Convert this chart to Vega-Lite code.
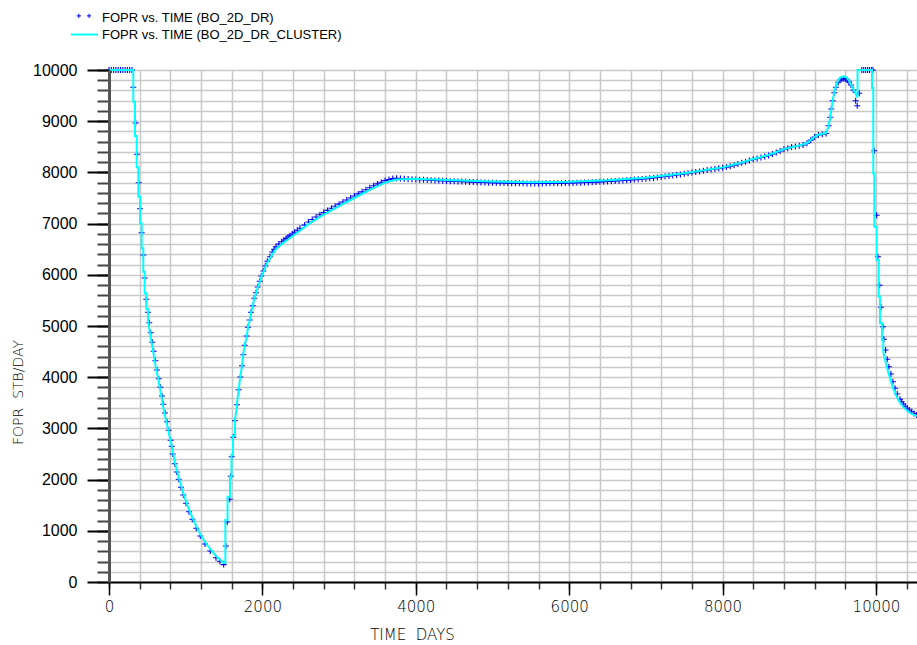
{
  "$schema": "https://vega.github.io/schema/vega-lite/v6.json",
  "width": 808,
  "height": 512,
  "autosize": {"type": "none"},
  "padding": {"left": 109, "top": 70, "right": 0, "bottom": 63},
  "background": "white",
  "config": {"view": {"stroke": null}},
  "datasets": {
    "dr": [
      {"s":"FOPR vs. TIME (BO_2D_DR)","t":0,"v":10000},{"s":"FOPR vs. TIME (BO_2D_DR)","t":30,"v":10000},{"s":"FOPR vs. TIME (BO_2D_DR)","t":60,"v":10000},{"s":"FOPR vs. TIME (BO_2D_DR)","t":90,"v":10000},{"s":"FOPR vs. TIME (BO_2D_DR)","t":120,"v":10000},{"s":"FOPR vs. TIME (BO_2D_DR)","t":150,"v":10000},{"s":"FOPR vs. TIME (BO_2D_DR)","t":180,"v":10000},{"s":"FOPR vs. TIME (BO_2D_DR)","t":210,"v":10000},{"s":"FOPR vs. TIME (BO_2D_DR)","t":240,"v":10000},{"s":"FOPR vs. TIME (BO_2D_DR)","t":270,"v":10000},{"s":"FOPR vs. TIME (BO_2D_DR)","t":300,"v":10000},
      {"s":"FOPR vs. TIME (BO_2D_DR)","t":317,"v":9662},{"s":"FOPR vs. TIME (BO_2D_DR)","t":348,"v":8965},{"s":"FOPR vs. TIME (BO_2D_DR)","t":365,"v":8354},{"s":"FOPR vs. TIME (BO_2D_DR)","t":387,"v":7799},{"s":"FOPR vs. TIME (BO_2D_DR)","t":404,"v":7291},{"s":"FOPR vs. TIME (BO_2D_DR)","t":426,"v":6822},{"s":"FOPR vs. TIME (BO_2D_DR)","t":447,"v":6387},{"s":"FOPR vs. TIME (BO_2D_DR)","t":465,"v":5938},{"s":"FOPR vs. TIME (BO_2D_DR)","t":486,"v":5521},{"s":"FOPR vs. TIME (BO_2D_DR)","t":508,"v":5268},{"s":"FOPR vs. TIME (BO_2D_DR)","t":525,"v":5064},{"s":"FOPR vs. TIME (BO_2D_DR)","t":544,"v":4869},{"s":"FOPR vs. TIME (BO_2D_DR)","t":565,"v":4682},{"s":"FOPR vs. TIME (BO_2D_DR)","t":583,"v":4506},{"s":"FOPR vs. TIME (BO_2D_DR)","t":604,"v":4322},{"s":"FOPR vs. TIME (BO_2D_DR)","t":626,"v":4141},{"s":"FOPR vs. TIME (BO_2D_DR)","t":648,"v":3971},{"s":"FOPR vs. TIME (BO_2D_DR)","t":669,"v":3803},{"s":"FOPR vs. TIME (BO_2D_DR)","t":691,"v":3633},{"s":"FOPR vs. TIME (BO_2D_DR)","t":708,"v":3471},{"s":"FOPR vs. TIME (BO_2D_DR)","t":730,"v":3301},{"s":"FOPR vs. TIME (BO_2D_DR)","t":756,"v":3131},{"s":"FOPR vs. TIME (BO_2D_DR)","t":778,"v":2963},{"s":"FOPR vs. TIME (BO_2D_DR)","t":804,"v":2768},{"s":"FOPR vs. TIME (BO_2D_DR)","t":818,"v":2650},{"s":"FOPR vs. TIME (BO_2D_DR)","t":830,"v":2500},{"s":"FOPR vs. TIME (BO_2D_DR)","t":857,"v":2311},{"s":"FOPR vs. TIME (BO_2D_DR)","t":883,"v":2148},{"s":"FOPR vs. TIME (BO_2D_DR)","t":909,"v":2006},{"s":"FOPR vs. TIME (BO_2D_DR)","t":939,"v":1850},{"s":"FOPR vs. TIME (BO_2D_DR)","t":969,"v":1699},{"s":"FOPR vs. TIME (BO_2D_DR)","t":1004,"v":1537},{"s":"FOPR vs. TIME (BO_2D_DR)","t":1043,"v":1373},{"s":"FOPR vs. TIME (BO_2D_DR)","t":1086,"v":1225},{"s":"FOPR vs. TIME (BO_2D_DR)","t":1138,"v":1049},{"s":"FOPR vs. TIME (BO_2D_DR)","t":1190,"v":898},{"s":"FOPR vs. TIME (BO_2D_DR)","t":1252,"v":742},{"s":"FOPR vs. TIME (BO_2D_DR)","t":1321,"v":605},{"s":"FOPR vs. TIME (BO_2D_DR)","t":1395,"v":475},{"s":"FOPR vs. TIME (BO_2D_DR)","t":1445,"v":405},{"s":"FOPR vs. TIME (BO_2D_DR)","t":1495,"v":340},
      {"s":"FOPR vs. TIME (BO_2D_DR)","t":1525,"v":703},{"s":"FOPR vs. TIME (BO_2D_DR)","t":1542,"v":1172},{"s":"FOPR vs. TIME (BO_2D_DR)","t":1574,"v":1615},{"s":"FOPR vs. TIME (BO_2D_DR)","t":1587,"v":2064},{"s":"FOPR vs. TIME (BO_2D_DR)","t":1600,"v":2447},{"s":"FOPR vs. TIME (BO_2D_DR)","t":1621,"v":2826},{"s":"FOPR vs. TIME (BO_2D_DR)","t":1643,"v":3150},{"s":"FOPR vs. TIME (BO_2D_DR)","t":1669,"v":3463},{"s":"FOPR vs. TIME (BO_2D_DR)","t":1691,"v":3756},{"s":"FOPR vs. TIME (BO_2D_DR)","t":1712,"v":4004},{"s":"FOPR vs. TIME (BO_2D_DR)","t":1734,"v":4225},{"s":"FOPR vs. TIME (BO_2D_DR)","t":1751,"v":4439},{"s":"FOPR vs. TIME (BO_2D_DR)","t":1769,"v":4623},{"s":"FOPR vs. TIME (BO_2D_DR)","t":1795,"v":4805},{"s":"FOPR vs. TIME (BO_2D_DR)","t":1812,"v":4975},{"s":"FOPR vs. TIME (BO_2D_DR)","t":1834,"v":5117},{"s":"FOPR vs. TIME (BO_2D_DR)","t":1851,"v":5268},{"s":"FOPR vs. TIME (BO_2D_DR)","t":1874,"v":5396},{"s":"FOPR vs. TIME (BO_2D_DR)","t":1894,"v":5541},{"s":"FOPR vs. TIME (BO_2D_DR)","t":1917,"v":5650},{"s":"FOPR vs. TIME (BO_2D_DR)","t":1939,"v":5762},{"s":"FOPR vs. TIME (BO_2D_DR)","t":1965,"v":5873},{"s":"FOPR vs. TIME (BO_2D_DR)","t":1986,"v":5977},{"s":"FOPR vs. TIME (BO_2D_DR)","t":2012,"v":6074},{"s":"FOPR vs. TIME (BO_2D_DR)","t":2038,"v":6172},{"s":"FOPR vs. TIME (BO_2D_DR)","t":2064,"v":6264},{"s":"FOPR vs. TIME (BO_2D_DR)","t":2099,"v":6354},{"s":"FOPR vs. TIME (BO_2D_DR)","t":2129,"v":6445},{"s":"FOPR vs. TIME (BO_2D_DR)","t":2153,"v":6500},{"s":"FOPR vs. TIME (BO_2D_DR)","t":2177,"v":6549},{"s":"FOPR vs. TIME (BO_2D_DR)","t":2215,"v":6600},{"s":"FOPR vs. TIME (BO_2D_DR)","t":2252,"v":6646},{"s":"FOPR vs. TIME (BO_2D_DR)","t":2280,"v":6680},{"s":"FOPR vs. TIME (BO_2D_DR)","t":2310,"v":6710},{"s":"FOPR vs. TIME (BO_2D_DR)","t":2335,"v":6737},{"s":"FOPR vs. TIME (BO_2D_DR)","t":2360,"v":6764},{"s":"FOPR vs. TIME (BO_2D_DR)","t":2390,"v":6797},{"s":"FOPR vs. TIME (BO_2D_DR)","t":2420,"v":6830},{"s":"FOPR vs. TIME (BO_2D_DR)","t":2455,"v":6870},{"s":"FOPR vs. TIME (BO_2D_DR)","t":2490,"v":6908},
      {"s":"FOPR vs. TIME (BO_2D_DR)","t":2550,"v":6970},{"s":"FOPR vs. TIME (BO_2D_DR)","t":2600,"v":7030},{"s":"FOPR vs. TIME (BO_2D_DR)","t":2650,"v":7080},{"s":"FOPR vs. TIME (BO_2D_DR)","t":2700,"v":7130},{"s":"FOPR vs. TIME (BO_2D_DR)","t":2750,"v":7173},{"s":"FOPR vs. TIME (BO_2D_DR)","t":2800,"v":7215},{"s":"FOPR vs. TIME (BO_2D_DR)","t":2850,"v":7258},{"s":"FOPR vs. TIME (BO_2D_DR)","t":2900,"v":7300},{"s":"FOPR vs. TIME (BO_2D_DR)","t":2950,"v":7340},{"s":"FOPR vs. TIME (BO_2D_DR)","t":3000,"v":7380},{"s":"FOPR vs. TIME (BO_2D_DR)","t":3050,"v":7421},{"s":"FOPR vs. TIME (BO_2D_DR)","t":3100,"v":7462},{"s":"FOPR vs. TIME (BO_2D_DR)","t":3150,"v":7501},{"s":"FOPR vs. TIME (BO_2D_DR)","t":3200,"v":7540},{"s":"FOPR vs. TIME (BO_2D_DR)","t":3250,"v":7580},{"s":"FOPR vs. TIME (BO_2D_DR)","t":3300,"v":7620},{"s":"FOPR vs. TIME (BO_2D_DR)","t":3350,"v":7660},{"s":"FOPR vs. TIME (BO_2D_DR)","t":3400,"v":7700},{"s":"FOPR vs. TIME (BO_2D_DR)","t":3450,"v":7738},{"s":"FOPR vs. TIME (BO_2D_DR)","t":3500,"v":7775},{"s":"FOPR vs. TIME (BO_2D_DR)","t":3550,"v":7808},{"s":"FOPR vs. TIME (BO_2D_DR)","t":3600,"v":7840},{"s":"FOPR vs. TIME (BO_2D_DR)","t":3650,"v":7862},{"s":"FOPR vs. TIME (BO_2D_DR)","t":3700,"v":7880},{"s":"FOPR vs. TIME (BO_2D_DR)","t":3750,"v":7885},{"s":"FOPR vs. TIME (BO_2D_DR)","t":3800,"v":7880},{"s":"FOPR vs. TIME (BO_2D_DR)","t":3850,"v":7875},{"s":"FOPR vs. TIME (BO_2D_DR)","t":3900,"v":7870},{"s":"FOPR vs. TIME (BO_2D_DR)","t":3950,"v":7866},{"s":"FOPR vs. TIME (BO_2D_DR)","t":4000,"v":7862},{"s":"FOPR vs. TIME (BO_2D_DR)","t":4050,"v":7858},{"s":"FOPR vs. TIME (BO_2D_DR)","t":4100,"v":7855},{"s":"FOPR vs. TIME (BO_2D_DR)","t":4150,"v":7851},{"s":"FOPR vs. TIME (BO_2D_DR)","t":4200,"v":7848},{"s":"FOPR vs. TIME (BO_2D_DR)","t":4250,"v":7844},{"s":"FOPR vs. TIME (BO_2D_DR)","t":4300,"v":7840},{"s":"FOPR vs. TIME (BO_2D_DR)","t":4350,"v":7836},{"s":"FOPR vs. TIME (BO_2D_DR)","t":4400,"v":7833},{"s":"FOPR vs. TIME (BO_2D_DR)","t":4450,"v":7829},{"s":"FOPR vs. TIME (BO_2D_DR)","t":4500,"v":7826},{"s":"FOPR vs. TIME (BO_2D_DR)","t":4550,"v":7823},{"s":"FOPR vs. TIME (BO_2D_DR)","t":4600,"v":7820},{"s":"FOPR vs. TIME (BO_2D_DR)","t":4650,"v":7817},{"s":"FOPR vs. TIME (BO_2D_DR)","t":4700,"v":7814},{"s":"FOPR vs. TIME (BO_2D_DR)","t":4750,"v":7811},{"s":"FOPR vs. TIME (BO_2D_DR)","t":4800,"v":7808},{"s":"FOPR vs. TIME (BO_2D_DR)","t":4850,"v":7805},{"s":"FOPR vs. TIME (BO_2D_DR)","t":4900,"v":7803},{"s":"FOPR vs. TIME (BO_2D_DR)","t":4950,"v":7800},{"s":"FOPR vs. TIME (BO_2D_DR)","t":5000,"v":7798},{"s":"FOPR vs. TIME (BO_2D_DR)","t":5050,"v":7796},{"s":"FOPR vs. TIME (BO_2D_DR)","t":5100,"v":7794},{"s":"FOPR vs. TIME (BO_2D_DR)","t":5150,"v":7792},{"s":"FOPR vs. TIME (BO_2D_DR)","t":5200,"v":7791},{"s":"FOPR vs. TIME (BO_2D_DR)","t":5250,"v":7789},{"s":"FOPR vs. TIME (BO_2D_DR)","t":5300,"v":7788},{"s":"FOPR vs. TIME (BO_2D_DR)","t":5350,"v":7787},{"s":"FOPR vs. TIME (BO_2D_DR)","t":5400,"v":7786},{"s":"FOPR vs. TIME (BO_2D_DR)","t":5450,"v":7785},{"s":"FOPR vs. TIME (BO_2D_DR)","t":5500,"v":7785},{"s":"FOPR vs. TIME (BO_2D_DR)","t":5550,"v":7785},{"s":"FOPR vs. TIME (BO_2D_DR)","t":5600,"v":7785},{"s":"FOPR vs. TIME (BO_2D_DR)","t":5650,"v":7785},{"s":"FOPR vs. TIME (BO_2D_DR)","t":5700,"v":7786},{"s":"FOPR vs. TIME (BO_2D_DR)","t":5750,"v":7787},{"s":"FOPR vs. TIME (BO_2D_DR)","t":5800,"v":7788},{"s":"FOPR vs. TIME (BO_2D_DR)","t":5850,"v":7789},{"s":"FOPR vs. TIME (BO_2D_DR)","t":5900,"v":7790},{"s":"FOPR vs. TIME (BO_2D_DR)","t":5950,"v":7791},{"s":"FOPR vs. TIME (BO_2D_DR)","t":6000,"v":7793},{"s":"FOPR vs. TIME (BO_2D_DR)","t":6050,"v":7795},{"s":"FOPR vs. TIME (BO_2D_DR)","t":6100,"v":7797},{"s":"FOPR vs. TIME (BO_2D_DR)","t":6150,"v":7799},{"s":"FOPR vs. TIME (BO_2D_DR)","t":6200,"v":7802},{"s":"FOPR vs. TIME (BO_2D_DR)","t":6250,"v":7805},{"s":"FOPR vs. TIME (BO_2D_DR)","t":6300,"v":7808},{"s":"FOPR vs. TIME (BO_2D_DR)","t":6350,"v":7811},{"s":"FOPR vs. TIME (BO_2D_DR)","t":6400,"v":7815},{"s":"FOPR vs. TIME (BO_2D_DR)","t":6450,"v":7819},{"s":"FOPR vs. TIME (BO_2D_DR)","t":6500,"v":7823},{"s":"FOPR vs. TIME (BO_2D_DR)","t":6550,"v":7827},{"s":"FOPR vs. TIME (BO_2D_DR)","t":6600,"v":7832},{"s":"FOPR vs. TIME (BO_2D_DR)","t":6650,"v":7837},{"s":"FOPR vs. TIME (BO_2D_DR)","t":6700,"v":7842},{"s":"FOPR vs. TIME (BO_2D_DR)","t":6750,"v":7847},{"s":"FOPR vs. TIME (BO_2D_DR)","t":6800,"v":7853},{"s":"FOPR vs. TIME (BO_2D_DR)","t":6850,"v":7859},{"s":"FOPR vs. TIME (BO_2D_DR)","t":6900,"v":7865},{"s":"FOPR vs. TIME (BO_2D_DR)","t":6950,"v":7871},{"s":"FOPR vs. TIME (BO_2D_DR)","t":7000,"v":7878},{"s":"FOPR vs. TIME (BO_2D_DR)","t":7050,"v":7885},{"s":"FOPR vs. TIME (BO_2D_DR)","t":7100,"v":7892},{"s":"FOPR vs. TIME (BO_2D_DR)","t":7150,"v":7901},{"s":"FOPR vs. TIME (BO_2D_DR)","t":7200,"v":7910},{"s":"FOPR vs. TIME (BO_2D_DR)","t":7250,"v":7920},{"s":"FOPR vs. TIME (BO_2D_DR)","t":7300,"v":7930},{"s":"FOPR vs. TIME (BO_2D_DR)","t":7350,"v":7940},{"s":"FOPR vs. TIME (BO_2D_DR)","t":7400,"v":7950},{"s":"FOPR vs. TIME (BO_2D_DR)","t":7450,"v":7961},{"s":"FOPR vs. TIME (BO_2D_DR)","t":7500,"v":7972},{"s":"FOPR vs. TIME (BO_2D_DR)","t":7550,"v":7984},{"s":"FOPR vs. TIME (BO_2D_DR)","t":7600,"v":7996},{"s":"FOPR vs. TIME (BO_2D_DR)","t":7650,"v":8008},{"s":"FOPR vs. TIME (BO_2D_DR)","t":7700,"v":8020},{"s":"FOPR vs. TIME (BO_2D_DR)","t":7750,"v":8032},{"s":"FOPR vs. TIME (BO_2D_DR)","t":7800,"v":8045},{"s":"FOPR vs. TIME (BO_2D_DR)","t":7850,"v":8056},{"s":"FOPR vs. TIME (BO_2D_DR)","t":7900,"v":8068},{"s":"FOPR vs. TIME (BO_2D_DR)","t":7950,"v":8079},{"s":"FOPR vs. TIME (BO_2D_DR)","t":8000,"v":8090},{"s":"FOPR vs. TIME (BO_2D_DR)","t":8050,"v":8104},{"s":"FOPR vs. TIME (BO_2D_DR)","t":8100,"v":8120},{"s":"FOPR vs. TIME (BO_2D_DR)","t":8150,"v":8142},{"s":"FOPR vs. TIME (BO_2D_DR)","t":8200,"v":8165},{"s":"FOPR vs. TIME (BO_2D_DR)","t":8250,"v":8187},{"s":"FOPR vs. TIME (BO_2D_DR)","t":8300,"v":8210},{"s":"FOPR vs. TIME (BO_2D_DR)","t":8350,"v":8232},{"s":"FOPR vs. TIME (BO_2D_DR)","t":8400,"v":8255},{"s":"FOPR vs. TIME (BO_2D_DR)","t":8450,"v":8272},{"s":"FOPR vs. TIME (BO_2D_DR)","t":8500,"v":8290},{"s":"FOPR vs. TIME (BO_2D_DR)","t":8550,"v":8310},{"s":"FOPR vs. TIME (BO_2D_DR)","t":8600,"v":8330},{"s":"FOPR vs. TIME (BO_2D_DR)","t":8650,"v":8360},{"s":"FOPR vs. TIME (BO_2D_DR)","t":8700,"v":8390},{"s":"FOPR vs. TIME (BO_2D_DR)","t":8750,"v":8420},{"s":"FOPR vs. TIME (BO_2D_DR)","t":8800,"v":8450},{"s":"FOPR vs. TIME (BO_2D_DR)","t":8850,"v":8473},{"s":"FOPR vs. TIME (BO_2D_DR)","t":8900,"v":8495},{"s":"FOPR vs. TIME (BO_2D_DR)","t":8950,"v":8508},{"s":"FOPR vs. TIME (BO_2D_DR)","t":9000,"v":8520},{"s":"FOPR vs. TIME (BO_2D_DR)","t":9050,"v":8535},{"s":"FOPR vs. TIME (BO_2D_DR)","t":9100,"v":8570},{"s":"FOPR vs. TIME (BO_2D_DR)","t":9150,"v":8630},{"s":"FOPR vs. TIME (BO_2D_DR)","t":9200,"v":8690},{"s":"FOPR vs. TIME (BO_2D_DR)","t":9250,"v":8730},{"s":"FOPR vs. TIME (BO_2D_DR)","t":9300,"v":8745},{"s":"FOPR vs. TIME (BO_2D_DR)","t":9350,"v":8760},
      {"s":"FOPR vs. TIME (BO_2D_DR)","t":9383,"v":8912},{"s":"FOPR vs. TIME (BO_2D_DR)","t":9404,"v":9076},{"s":"FOPR vs. TIME (BO_2D_DR)","t":9417,"v":9238},{"s":"FOPR vs. TIME (BO_2D_DR)","t":9435,"v":9400},{"s":"FOPR vs. TIME (BO_2D_DR)","t":9456,"v":9557},{"s":"FOPR vs. TIME (BO_2D_DR)","t":9478,"v":9662},{"s":"FOPR vs. TIME (BO_2D_DR)","t":9508,"v":9760},{"s":"FOPR vs. TIME (BO_2D_DR)","t":9530,"v":9800},{"s":"FOPR vs. TIME (BO_2D_DR)","t":9553,"v":9824},{"s":"FOPR vs. TIME (BO_2D_DR)","t":9580,"v":9830},{"s":"FOPR vs. TIME (BO_2D_DR)","t":9605,"v":9824},{"s":"FOPR vs. TIME (BO_2D_DR)","t":9627,"v":9800},{"s":"FOPR vs. TIME (BO_2D_DR)","t":9648,"v":9771},{"s":"FOPR vs. TIME (BO_2D_DR)","t":9674,"v":9707},{"s":"FOPR vs. TIME (BO_2D_DR)","t":9704,"v":9609},{"s":"FOPR vs. TIME (BO_2D_DR)","t":9735,"v":9400},{"s":"FOPR vs. TIME (BO_2D_DR)","t":9756,"v":9303},{"s":"FOPR vs. TIME (BO_2D_DR)","t":9782,"v":9545},{"s":"FOPR vs. TIME (BO_2D_DR)","t":9815,"v":10000},{"s":"FOPR vs. TIME (BO_2D_DR)","t":9840,"v":10000},{"s":"FOPR vs. TIME (BO_2D_DR)","t":9865,"v":10000},{"s":"FOPR vs. TIME (BO_2D_DR)","t":9890,"v":10000},{"s":"FOPR vs. TIME (BO_2D_DR)","t":9915,"v":10000},{"s":"FOPR vs. TIME (BO_2D_DR)","t":9940,"v":10000},{"s":"FOPR vs. TIME (BO_2D_DR)","t":9960,"v":10000},
      {"s":"FOPR vs. TIME (BO_2D_DR)","t":9978,"v":8424},{"s":"FOPR vs. TIME (BO_2D_DR)","t":10009,"v":7162},{"s":"FOPR vs. TIME (BO_2D_DR)","t":10026,"v":6354},{"s":"FOPR vs. TIME (BO_2D_DR)","t":10048,"v":5795},{"s":"FOPR vs. TIME (BO_2D_DR)","t":10065,"v":5365},{"s":"FOPR vs. TIME (BO_2D_DR)","t":10091,"v":4986},{"s":"FOPR vs. TIME (BO_2D_DR)","t":10104,"v":4740},{"s":"FOPR vs. TIME (BO_2D_DR)","t":10126,"v":4531},{"s":"FOPR vs. TIME (BO_2D_DR)","t":10147,"v":4350},{"s":"FOPR vs. TIME (BO_2D_DR)","t":10169,"v":4205},{"s":"FOPR vs. TIME (BO_2D_DR)","t":10195,"v":4063},{"s":"FOPR vs. TIME (BO_2D_DR)","t":10221,"v":3912},{"s":"FOPR vs. TIME (BO_2D_DR)","t":10248,"v":3783},{"s":"FOPR vs. TIME (BO_2D_DR)","t":10278,"v":3672},{"s":"FOPR vs. TIME (BO_2D_DR)","t":10313,"v":3568},{"s":"FOPR vs. TIME (BO_2D_DR)","t":10335,"v":3520},{"s":"FOPR vs. TIME (BO_2D_DR)","t":10356,"v":3477},{"s":"FOPR vs. TIME (BO_2D_DR)","t":10380,"v":3432},{"s":"FOPR vs. TIME (BO_2D_DR)","t":10408,"v":3393},{"s":"FOPR vs. TIME (BO_2D_DR)","t":10435,"v":3358},{"s":"FOPR vs. TIME (BO_2D_DR)","t":10465,"v":3326},{"s":"FOPR vs. TIME (BO_2D_DR)","t":10497,"v":3293},{"s":"FOPR vs. TIME (BO_2D_DR)","t":10530,"v":3262}
    ],
    "cl": [
      {"s":"FOPR vs. TIME (BO_2D_DR_CLUSTER)","t":0,"v":10000},{"s":"FOPR vs. TIME (BO_2D_DR_CLUSTER)","t":317,"v":10000},{"s":"FOPR vs. TIME (BO_2D_DR_CLUSTER)","t":317,"v":9381},{"s":"FOPR vs. TIME (BO_2D_DR_CLUSTER)","t":339,"v":9381},{"s":"FOPR vs. TIME (BO_2D_DR_CLUSTER)","t":339,"v":8711},{"s":"FOPR vs. TIME (BO_2D_DR_CLUSTER)","t":361,"v":8711},{"s":"FOPR vs. TIME (BO_2D_DR_CLUSTER)","t":361,"v":8100},{"s":"FOPR vs. TIME (BO_2D_DR_CLUSTER)","t":382,"v":8100},{"s":"FOPR vs. TIME (BO_2D_DR_CLUSTER)","t":382,"v":7526},{"s":"FOPR vs. TIME (BO_2D_DR_CLUSTER)","t":404,"v":7526},{"s":"FOPR vs. TIME (BO_2D_DR_CLUSTER)","t":404,"v":7006},{"s":"FOPR vs. TIME (BO_2D_DR_CLUSTER)","t":426,"v":7006},{"s":"FOPR vs. TIME (BO_2D_DR_CLUSTER)","t":426,"v":6517},{"s":"FOPR vs. TIME (BO_2D_DR_CLUSTER)","t":447,"v":6517},{"s":"FOPR vs. TIME (BO_2D_DR_CLUSTER)","t":447,"v":6061},{"s":"FOPR vs. TIME (BO_2D_DR_CLUSTER)","t":465,"v":6061},{"s":"FOPR vs. TIME (BO_2D_DR_CLUSTER)","t":465,"v":5638},{"s":"FOPR vs. TIME (BO_2D_DR_CLUSTER)","t":486,"v":5638},{"s":"FOPR vs. TIME (BO_2D_DR_CLUSTER)","t":486,"v":5330},{"s":"FOPR vs. TIME (BO_2D_DR_CLUSTER)","t":508,"v":5330},{"s":"FOPR vs. TIME (BO_2D_DR_CLUSTER)","t":508,"v":5120},
      {"s":"FOPR vs. TIME (BO_2D_DR_CLUSTER)","t":525,"v":4950},{"s":"FOPR vs. TIME (BO_2D_DR_CLUSTER)","t":544,"v":4780},{"s":"FOPR vs. TIME (BO_2D_DR_CLUSTER)","t":565,"v":4600},{"s":"FOPR vs. TIME (BO_2D_DR_CLUSTER)","t":583,"v":4430},{"s":"FOPR vs. TIME (BO_2D_DR_CLUSTER)","t":604,"v":4250},{"s":"FOPR vs. TIME (BO_2D_DR_CLUSTER)","t":626,"v":4080},{"s":"FOPR vs. TIME (BO_2D_DR_CLUSTER)","t":648,"v":3910},{"s":"FOPR vs. TIME (BO_2D_DR_CLUSTER)","t":669,"v":3740},{"s":"FOPR vs. TIME (BO_2D_DR_CLUSTER)","t":691,"v":3570},{"s":"FOPR vs. TIME (BO_2D_DR_CLUSTER)","t":708,"v":3410},{"s":"FOPR vs. TIME (BO_2D_DR_CLUSTER)","t":730,"v":3250},{"s":"FOPR vs. TIME (BO_2D_DR_CLUSTER)","t":756,"v":3080},{"s":"FOPR vs. TIME (BO_2D_DR_CLUSTER)","t":778,"v":2920},{"s":"FOPR vs. TIME (BO_2D_DR_CLUSTER)","t":804,"v":2740},{"s":"FOPR vs. TIME (BO_2D_DR_CLUSTER)","t":830,"v":2560},{"s":"FOPR vs. TIME (BO_2D_DR_CLUSTER)","t":857,"v":2350},{"s":"FOPR vs. TIME (BO_2D_DR_CLUSTER)","t":883,"v":2190},{"s":"FOPR vs. TIME (BO_2D_DR_CLUSTER)","t":909,"v":2040},{"s":"FOPR vs. TIME (BO_2D_DR_CLUSTER)","t":939,"v":1890},{"s":"FOPR vs. TIME (BO_2D_DR_CLUSTER)","t":969,"v":1740},{"s":"FOPR vs. TIME (BO_2D_DR_CLUSTER)","t":1004,"v":1580},{"s":"FOPR vs. TIME (BO_2D_DR_CLUSTER)","t":1043,"v":1420},{"s":"FOPR vs. TIME (BO_2D_DR_CLUSTER)","t":1086,"v":1265},{"s":"FOPR vs. TIME (BO_2D_DR_CLUSTER)","t":1138,"v":1090},{"s":"FOPR vs. TIME (BO_2D_DR_CLUSTER)","t":1190,"v":935},{"s":"FOPR vs. TIME (BO_2D_DR_CLUSTER)","t":1252,"v":780},{"s":"FOPR vs. TIME (BO_2D_DR_CLUSTER)","t":1321,"v":640},{"s":"FOPR vs. TIME (BO_2D_DR_CLUSTER)","t":1395,"v":510},{"s":"FOPR vs. TIME (BO_2D_DR_CLUSTER)","t":1495,"v":371},
      {"s":"FOPR vs. TIME (BO_2D_DR_CLUSTER)","t":1517,"v":371},{"s":"FOPR vs. TIME (BO_2D_DR_CLUSTER)","t":1517,"v":1211},{"s":"FOPR vs. TIME (BO_2D_DR_CLUSTER)","t":1546,"v":1211},{"s":"FOPR vs. TIME (BO_2D_DR_CLUSTER)","t":1546,"v":1666},{"s":"FOPR vs. TIME (BO_2D_DR_CLUSTER)","t":1577,"v":1666},{"s":"FOPR vs. TIME (BO_2D_DR_CLUSTER)","t":1577,"v":2057},{"s":"FOPR vs. TIME (BO_2D_DR_CLUSTER)","t":1597,"v":2057},{"s":"FOPR vs. TIME (BO_2D_DR_CLUSTER)","t":1597,"v":2480},{"s":"FOPR vs. TIME (BO_2D_DR_CLUSTER)","t":1617,"v":2480},{"s":"FOPR vs. TIME (BO_2D_DR_CLUSTER)","t":1617,"v":2851},{"s":"FOPR vs. TIME (BO_2D_DR_CLUSTER)","t":1643,"v":2851},{"s":"FOPR vs. TIME (BO_2D_DR_CLUSTER)","t":1643,"v":3170},
      {"s":"FOPR vs. TIME (BO_2D_DR_CLUSTER)","t":1669,"v":3480},{"s":"FOPR vs. TIME (BO_2D_DR_CLUSTER)","t":1691,"v":3770},{"s":"FOPR vs. TIME (BO_2D_DR_CLUSTER)","t":1712,"v":4010},{"s":"FOPR vs. TIME (BO_2D_DR_CLUSTER)","t":1734,"v":4230},{"s":"FOPR vs. TIME (BO_2D_DR_CLUSTER)","t":1751,"v":4440},{"s":"FOPR vs. TIME (BO_2D_DR_CLUSTER)","t":1769,"v":4620},{"s":"FOPR vs. TIME (BO_2D_DR_CLUSTER)","t":1795,"v":4800},{"s":"FOPR vs. TIME (BO_2D_DR_CLUSTER)","t":1812,"v":4970},{"s":"FOPR vs. TIME (BO_2D_DR_CLUSTER)","t":1834,"v":5110},{"s":"FOPR vs. TIME (BO_2D_DR_CLUSTER)","t":1851,"v":5260},{"s":"FOPR vs. TIME (BO_2D_DR_CLUSTER)","t":1874,"v":5390},{"s":"FOPR vs. TIME (BO_2D_DR_CLUSTER)","t":1894,"v":5530},{"s":"FOPR vs. TIME (BO_2D_DR_CLUSTER)","t":1917,"v":5640},{"s":"FOPR vs. TIME (BO_2D_DR_CLUSTER)","t":1939,"v":5750},{"s":"FOPR vs. TIME (BO_2D_DR_CLUSTER)","t":1965,"v":5860},{"s":"FOPR vs. TIME (BO_2D_DR_CLUSTER)","t":1986,"v":5960},{"s":"FOPR vs. TIME (BO_2D_DR_CLUSTER)","t":2012,"v":6050},{"s":"FOPR vs. TIME (BO_2D_DR_CLUSTER)","t":2038,"v":6140},{"s":"FOPR vs. TIME (BO_2D_DR_CLUSTER)","t":2064,"v":6230},{"s":"FOPR vs. TIME (BO_2D_DR_CLUSTER)","t":2099,"v":6320},{"s":"FOPR vs. TIME (BO_2D_DR_CLUSTER)","t":2129,"v":6400},{"s":"FOPR vs. TIME (BO_2D_DR_CLUSTER)","t":2177,"v":6500},{"s":"FOPR vs. TIME (BO_2D_DR_CLUSTER)","t":2252,"v":6600},{"s":"FOPR vs. TIME (BO_2D_DR_CLUSTER)","t":2360,"v":6720},{"s":"FOPR vs. TIME (BO_2D_DR_CLUSTER)","t":2490,"v":6860},
      {"s":"FOPR vs. TIME (BO_2D_DR_CLUSTER)","t":2600,"v":6990},{"s":"FOPR vs. TIME (BO_2D_DR_CLUSTER)","t":2800,"v":7175},{"s":"FOPR vs. TIME (BO_2D_DR_CLUSTER)","t":3000,"v":7340},{"s":"FOPR vs. TIME (BO_2D_DR_CLUSTER)","t":3200,"v":7500},{"s":"FOPR vs. TIME (BO_2D_DR_CLUSTER)","t":3400,"v":7660},{"s":"FOPR vs. TIME (BO_2D_DR_CLUSTER)","t":3600,"v":7800},{"s":"FOPR vs. TIME (BO_2D_DR_CLUSTER)","t":3750,"v":7862},{"s":"FOPR vs. TIME (BO_2D_DR_CLUSTER)","t":4000,"v":7878},{"s":"FOPR vs. TIME (BO_2D_DR_CLUSTER)","t":4500,"v":7848},{"s":"FOPR vs. TIME (BO_2D_DR_CLUSTER)","t":5000,"v":7822},{"s":"FOPR vs. TIME (BO_2D_DR_CLUSTER)","t":5500,"v":7810},{"s":"FOPR vs. TIME (BO_2D_DR_CLUSTER)","t":6000,"v":7818},{"s":"FOPR vs. TIME (BO_2D_DR_CLUSTER)","t":6500,"v":7847},{"s":"FOPR vs. TIME (BO_2D_DR_CLUSTER)","t":7000,"v":7897},{"s":"FOPR vs. TIME (BO_2D_DR_CLUSTER)","t":7500,"v":7982},{"s":"FOPR vs. TIME (BO_2D_DR_CLUSTER)","t":8000,"v":8098},{"s":"FOPR vs. TIME (BO_2D_DR_CLUSTER)","t":8200,"v":8172},{"s":"FOPR vs. TIME (BO_2D_DR_CLUSTER)","t":8400,"v":8262},{"s":"FOPR vs. TIME (BO_2D_DR_CLUSTER)","t":8600,"v":8340},{"s":"FOPR vs. TIME (BO_2D_DR_CLUSTER)","t":8800,"v":8455},{"s":"FOPR vs. TIME (BO_2D_DR_CLUSTER)","t":9000,"v":8525},{"s":"FOPR vs. TIME (BO_2D_DR_CLUSTER)","t":9100,"v":8572},{"s":"FOPR vs. TIME (BO_2D_DR_CLUSTER)","t":9200,"v":8695},{"s":"FOPR vs. TIME (BO_2D_DR_CLUSTER)","t":9250,"v":8735},{"s":"FOPR vs. TIME (BO_2D_DR_CLUSTER)","t":9350,"v":8770},
      {"s":"FOPR vs. TIME (BO_2D_DR_CLUSTER)","t":9383,"v":8912},{"s":"FOPR vs. TIME (BO_2D_DR_CLUSTER)","t":9404,"v":9076},{"s":"FOPR vs. TIME (BO_2D_DR_CLUSTER)","t":9420,"v":9240},{"s":"FOPR vs. TIME (BO_2D_DR_CLUSTER)","t":9435,"v":9400},{"s":"FOPR vs. TIME (BO_2D_DR_CLUSTER)","t":9456,"v":9560},{"s":"FOPR vs. TIME (BO_2D_DR_CLUSTER)","t":9478,"v":9680},{"s":"FOPR vs. TIME (BO_2D_DR_CLUSTER)","t":9508,"v":9800},{"s":"FOPR vs. TIME (BO_2D_DR_CLUSTER)","t":9540,"v":9860},{"s":"FOPR vs. TIME (BO_2D_DR_CLUSTER)","t":9574,"v":9875},{"s":"FOPR vs. TIME (BO_2D_DR_CLUSTER)","t":9610,"v":9865},{"s":"FOPR vs. TIME (BO_2D_DR_CLUSTER)","t":9650,"v":9790},{"s":"FOPR vs. TIME (BO_2D_DR_CLUSTER)","t":9680,"v":9700},{"s":"FOPR vs. TIME (BO_2D_DR_CLUSTER)","t":9710,"v":9610},{"s":"FOPR vs. TIME (BO_2D_DR_CLUSTER)","t":9740,"v":9520},{"s":"FOPR vs. TIME (BO_2D_DR_CLUSTER)","t":9756,"v":9478},{"s":"FOPR vs. TIME (BO_2D_DR_CLUSTER)","t":9760,"v":9478},{"s":"FOPR vs. TIME (BO_2D_DR_CLUSTER)","t":9760,"v":10000},{"s":"FOPR vs. TIME (BO_2D_DR_CLUSTER)","t":9948,"v":10000},{"s":"FOPR vs. TIME (BO_2D_DR_CLUSTER)","t":9948,"v":9650},{"s":"FOPR vs. TIME (BO_2D_DR_CLUSTER)","t":9965,"v":9650},{"s":"FOPR vs. TIME (BO_2D_DR_CLUSTER)","t":9965,"v":7982},{"s":"FOPR vs. TIME (BO_2D_DR_CLUSTER)","t":9978,"v":7982},{"s":"FOPR vs. TIME (BO_2D_DR_CLUSTER)","t":9978,"v":6940},{"s":"FOPR vs. TIME (BO_2D_DR_CLUSTER)","t":10009,"v":6940},{"s":"FOPR vs. TIME (BO_2D_DR_CLUSTER)","t":10009,"v":6289},{"s":"FOPR vs. TIME (BO_2D_DR_CLUSTER)","t":10035,"v":6289},{"s":"FOPR vs. TIME (BO_2D_DR_CLUSTER)","t":10035,"v":5572},{"s":"FOPR vs. TIME (BO_2D_DR_CLUSTER)","t":10052,"v":5572},{"s":"FOPR vs. TIME (BO_2D_DR_CLUSTER)","t":10052,"v":5053},{"s":"FOPR vs. TIME (BO_2D_DR_CLUSTER)","t":10078,"v":5053},{"s":"FOPR vs. TIME (BO_2D_DR_CLUSTER)","t":10078,"v":4727},{"s":"FOPR vs. TIME (BO_2D_DR_CLUSTER)","t":10095,"v":4727},{"s":"FOPR vs. TIME (BO_2D_DR_CLUSTER)","t":10095,"v":4500},
      {"s":"FOPR vs. TIME (BO_2D_DR_CLUSTER)","t":10120,"v":4330},{"s":"FOPR vs. TIME (BO_2D_DR_CLUSTER)","t":10145,"v":4180},{"s":"FOPR vs. TIME (BO_2D_DR_CLUSTER)","t":10170,"v":4050},{"s":"FOPR vs. TIME (BO_2D_DR_CLUSTER)","t":10195,"v":3920},{"s":"FOPR vs. TIME (BO_2D_DR_CLUSTER)","t":10220,"v":3800},{"s":"FOPR vs. TIME (BO_2D_DR_CLUSTER)","t":10250,"v":3690},{"s":"FOPR vs. TIME (BO_2D_DR_CLUSTER)","t":10280,"v":3590},{"s":"FOPR vs. TIME (BO_2D_DR_CLUSTER)","t":10315,"v":3500},{"s":"FOPR vs. TIME (BO_2D_DR_CLUSTER)","t":10355,"v":3420},{"s":"FOPR vs. TIME (BO_2D_DR_CLUSTER)","t":10405,"v":3350},{"s":"FOPR vs. TIME (BO_2D_DR_CLUSTER)","t":10460,"v":3290},{"s":"FOPR vs. TIME (BO_2D_DR_CLUSTER)","t":10535,"v":3240}
    ]
  },
  "encoding": {
    "color": {
      "field": "s",
      "type": "nominal",
      "scale": {"domain": ["FOPR vs. TIME (BO_2D_DR)", "FOPR vs. TIME (BO_2D_DR_CLUSTER)"], "range": ["#0000ff", "#00ffff"]},
      "legend": {
        "orient": "none",
        "legendX": -31,
        "legendY": -59,
        "title": null,
        "padding": 0,
        "symbolSize": 729,
        "labelFont": "Liberation Sans",
        "labelFontSize": 13,
        "labelColor": "#000000",
        "labelOffset": 11,
        "labelLimit": 0,
        "rowPadding": 3,
        "encode": {
          "symbols": {
            "update": {
              "shape": {"signal": "datum.value === 'FOPR vs. TIME (BO_2D_DR)' ? 'M-0.58,-0.12H-0.26M-0.42,-0.28V0.04M0.18,-0.12H0.5M0.34,-0.28V0.04' : 'M-1,0H1'"},
              "size": {"value": 729},
              "strokeWidth": {"signal": "datum.value === 'FOPR vs. TIME (BO_2D_DR)' ? 1 : 2"},
              "stroke": {"signal": "datum.value === 'FOPR vs. TIME (BO_2D_DR)' ? '#0000ff' : '#00ffff'"},
              "fill": {"value": "transparent"},
              "opacity": {"value": 1}
            }
          }
        }
      }
    }
  },
  "layer": [
    {
      "data": {"name": "dr"},
      "mark": {"type": "point", "shape": "M-1,0H1M0,-1V1", "size": 36, "strokeWidth": 1.1, "filled": false, "opacity": 1},
      "encoding": {
        "x": {
          "field": "t", "type": "quantitative",
          "scale": {"domain": [0, 10535], "nice": false, "zero": false},
          "axis": {
            "orient": "bottom", "values": [0, 2000, 4000, 6000, 8000, 10000], "format": "d",
            "grid": false, "zindex": 1,
            "domain": true, "domainColor": "#000000", "domainWidth": 2,
            "ticks": true, "tickSize": 13, "tickColor": "#000000", "tickWidth": 1.5,
            "labels": true, "labelFont": "DejaVu Sans", "labelFontWeight": 200, "labelFontSize": 15, "labelColor": "#000000", "labelPadding": 4, "labelFlush": false, "labelOverlap": false,
            "title": "TIME\u00a0\u00a0DAYS", "titleFont": "DejaVu Sans", "titleFontWeight": 200, "titleFontSize": 15, "titleColor": "#000000",
            "titleX": 303, "titleY": 52, "titleBaseline": "middle", "titleAlign": "center", "titleAnchor": null
          }
        },
        "y": {
          "field": "v", "type": "quantitative",
          "scale": {"domain": [0, 10000], "nice": false, "zero": false},
          "axis": {
            "orient": "left", "values": [0, 1000, 2000, 3000, 4000, 5000, 6000, 7000, 8000, 9000, 10000], "format": "d",
            "grid": false, "zindex": 1,
            "domain": true, "domainColor": "#555555", "domainWidth": 3,
            "ticks": true, "tickSize": 22, "tickColor": "#000000", "tickWidth": 2,
            "labels": true, "labelFont": "Liberation Sans", "labelFontSize": 16, "labelColor": "#000000", "labelPadding": 10, "labelFlush": false, "labelOverlap": false,
            "title": "FOPR\u00a0\u00a0STB/DAY", "titleFont": "DejaVu Sans", "titleFontWeight": 200, "titleFontSize": 14, "titleColor": "#000000",
            "titleX": -91, "titleY": 322, "titleBaseline": "middle", "titleAlign": "center", "titleAngle": 270, "titleAnchor": null
          }
        }
      }
    },
    {
      "data": {"name": "cl"},
      "mark": {"type": "line", "strokeWidth": 2, "interpolate": "linear"},
      "encoding": {
        "x": {
          "field": "t", "type": "quantitative",
          "axis": {
            "orient": "bottom",
            "values": [0, 400, 800, 1200, 1600, 2000, 2400, 2800, 3200, 3600, 4000, 4400, 4800, 5200, 5600, 6000, 6400, 6800, 7200, 7600, 8000, 8400, 8800, 9200, 9600, 10000, 10400],
            "grid": true, "gridColor": "#c8c8c8", "gridWidth": 1.5, "zindex": 0,
            "domain": false, "ticks": true, "tickSize": 7, "tickColor": "#333333", "tickWidth": 1.5,
            "labels": false, "title": null
          }
        },
        "y": {
          "field": "v", "type": "quantitative",
          "axis": {
            "orient": "left",
            "values": [0, 200, 400, 600, 800, 1000, 1200, 1400, 1600, 1800, 2000, 2200, 2400, 2600, 2800, 3000, 3200, 3400, 3600, 3800, 4000, 4200, 4400, 4600, 4800, 5000, 5200, 5400, 5600, 5800, 6000, 6200, 6400, 6600, 6800, 7000, 7200, 7400, 7600, 7800, 8000, 8200, 8400, 8600, 8800, 9000, 9200, 9400, 9600, 9800, 10000],
            "grid": true, "gridColor": "#c8c8c8", "gridWidth": 1.5, "zindex": 0,
            "domain": false, "ticks": true, "tickSize": 12, "tickColor": "#444444", "tickWidth": 2,
            "labels": false, "title": null
          }
        },
        "order": {"value": null}
      }
    }
  ],
  "resolve": {"axis": {"x": "independent", "y": "independent"}}
}
